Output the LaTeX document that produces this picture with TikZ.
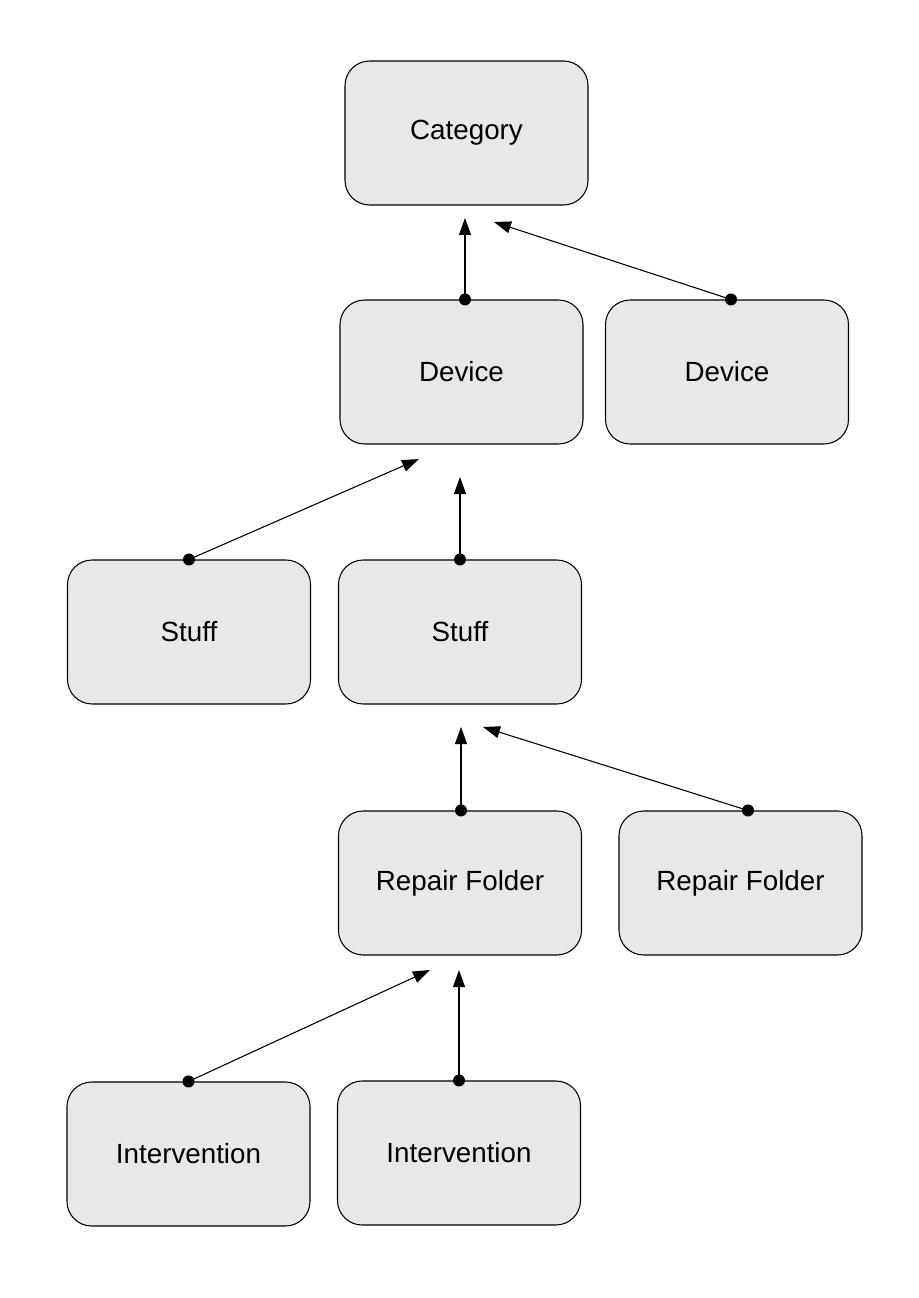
\documentclass[tikz,border=0pt]{standalone}
\usepackage{fontspec}
\setmainfont{Liberation Sans}
\usetikzlibrary{arrows.meta,positioning,calc}
\definecolor{boxgray}{RGB}{232,232,232}
\definecolor{ink}{RGB}{0,0,0}
\tikzset{
  >={Triangle[length=3.4mm,width=2.4mm]},
  box/.style={draw=ink,fill=boxgray,rounded corners=14pt,line width=0.6pt,
    minimum height=2.88cm,minimum width=4.86cm,align=center,
    font=\fontsize{15.8}{18}\selectfont},
  flow/.style={->,line width=0.6pt,draw=#1,fill=#1},
  flow/.default=ink,
  dot/.style={fill=ink,circle,inner sep=0pt,minimum size=2.4mm},
}
\begin{document}
\begin{tikzpicture}
  \useasboundingbox (0,0) rectangle (18.36,-25.96);
  % boxes
  \node[box] (cat) at (9.33,-2.66) {Category};
  \node[box] (dev1) at (9.23,-7.44) {Device};
  \node[box] (dev2) at (14.54,-7.44) {Device};
  \node[box] (stuff1) at (3.78,-12.64) {Stuff};
  \node[box] (stuff2) at (9.20,-12.64) {Stuff};
  \node[box] (rep1) at (9.20,-17.66) {Repair Folder};
  \node[box] (rep2) at (14.81,-17.66) {Repair Folder};
  \node[box] (int1) at (3.77,-23.08) {Intervention};
  \node[box] (int2) at (9.18,-23.06) {Intervention};
  % free arrow ends
  \coordinate (catA) at (9.30,-4.36);
  \coordinate (catB) at (9.88,-4.44);
  \coordinate (devA) at (8.38,-9.18);
  \coordinate (devB) at (9.20,-9.54);
  \coordinate (stuffA) at (9.22,-14.54);
  \coordinate (stuffB) at (9.66,-14.54);
  \coordinate (repA) at (8.60,-19.40);
  \coordinate (repB) at (9.18,-19.40);
  % start points
  \coordinate (s1) at ([xshift=0.07cm]dev1.north);
  \coordinate (s2) at ([xshift=0.08cm]dev2.north);
  \coordinate (s3) at (stuff1.north);
  \coordinate (s4) at (stuff2.north);
  \coordinate (s5) at ([xshift=0.02cm]rep1.north);
  \coordinate (s6) at ([xshift=0.15cm]rep2.north);
  \coordinate (s7) at (int1.north);
  \coordinate (s8) at (int2.north);
  % connectors
  \foreach \a/\b in {s1/catA,s2/catB,s3/devA,s4/devB,s5/stuffA,s6/stuffB,s7/repA,s8/repB}{
    \draw[flow] (\a) -- (\b);
    \node[dot] at (\a) {};
  }
\end{tikzpicture}
\end{document}
